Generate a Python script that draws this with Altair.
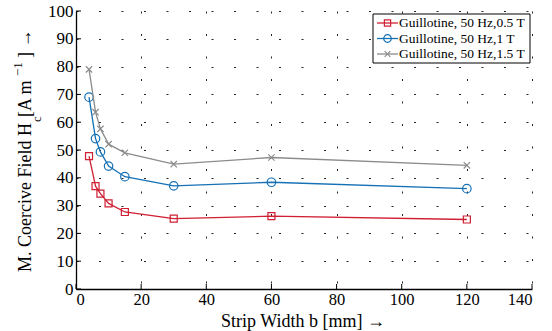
import altair as alt
import pandas as pd

# Strip widths b in mm and coercive field H_c in A/m per induction level
widths = [4, 6, 7.5, 10, 15, 30, 60, 120]
hc_05T = [47.8, 37.0, 34.3, 30.8, 27.7, 25.3, 26.2, 25.0]
hc_1T = [69.0, 54.1, 49.3, 44.2, 40.4, 37.1, 38.4, 36.1]
hc_15T = [79.0, 63.6, 57.6, 52.1, 49.0, 44.9, 47.3, 44.5]

series_names = [
    "Guillotine, 50 Hz,0.5 T",
    "Guillotine, 50 Hz,1 T",
    "Guillotine, 50 Hz,1.5 T",
]
series_values = [hc_05T, hc_1T, hc_15T]
colors = ["#D01F32", "#1570B5", "#8C8C8C"]
shapes = ["square", "circle", "M-1,-1L1,1M-1,1L1,-1"]
marker_sizes = [49, 72, 40]

x_ticks = [0, 20, 40, 60, 80, 100, 120, 140]
y_ticks = [0, 10, 20, 30, 40, 50, 60, 70, 80, 90, 100]

W, H = 456, 278
FONT = "Liberation Serif"

rows = []
for name, vals in zip(series_names, series_values):
    for w, v in zip(widths, vals):
        rows.append({"series": name, "b": w, "hc": v})
df = pd.DataFrame(rows)

x_scale = alt.Scale(domain=[0, 140], nice=False, zero=False)
y_scale = alt.Scale(domain=[0, 100], nice=False, zero=False)

x_axis = alt.Axis(
    values=x_ticks, grid=True, ticks=False, tickSize=0,
    title="Strip Width  b [mm] \u2192", titleX=226.5, titleY=37,
    titleAlign="center", titleBaseline="alphabetic", labelPadding=2,
    labelBaseline="top", labelFontSize=16.5,
)
y_axis = alt.Axis(values=y_ticks, grid=True, ticks=False, tickSize=0,
                  title=None, labelPadding=3)


def xenc(field="b"):
    return alt.X(f"{field}:Q", scale=x_scale, axis=x_axis)


def yenc(field="hc"):
    return alt.Y(f"{field}:Q", scale=y_scale, axis=y_axis)


one = alt.Data(values=[{"k": 0}])
layers = []

# curves and markers
for name, col, shp, sz in zip(series_names, colors, shapes, marker_sizes):
    sub = df[df["series"] == name]
    layers.append(
        alt.Chart(sub).mark_line(color=col, strokeWidth=1.3).encode(x=xenc(), y=yenc())
    )
    layers.append(
        alt.Chart(sub).mark_point(color=col, shape=shp, size=sz, filled=False,
                                  strokeWidth=1.2, opacity=1).encode(x=xenc(), y=yenc())
    )

# inward tick marks
layers.append(
    alt.Chart(pd.DataFrame({"hc": y_ticks})).mark_rule(color="black", strokeWidth=1)
    .encode(y=yenc(), x=alt.value(0), x2=alt.value(5))
)
layers.append(
    alt.Chart(pd.DataFrame({"b": x_ticks})).mark_rule(color="black", strokeWidth=1)
    .encode(x=xenc(), y=alt.value(H), y2=alt.value(H - 5))
)

# legend box
layers.append(
    alt.Chart(one).mark_rect(fill="white", stroke="black", strokeWidth=1)
    .encode(x=alt.value(297), x2=alt.value(454), y=alt.value(3), y2=alt.value(52))
)
legend_rows = [12, 27.5, 43]
for name, col, shp, sz, ry in zip(series_names, colors, shapes, marker_sizes, legend_rows):
    layers.append(
        alt.Chart(one).mark_rule(color=col, strokeWidth=1.3)
        .encode(x=alt.value(301), x2=alt.value(322), y=alt.value(ry))
    )
    layers.append(
        alt.Chart(one).mark_point(color=col, shape=shp, size=sz * 0.8, filled=False,
                                  strokeWidth=1.2, opacity=1)
        .encode(x=alt.value(311.5), y=alt.value(ry))
    )
    layers.append(
        alt.Chart(one).mark_text(font=FONT, fontSize=13.5, align="left",
                                 baseline="middle", color="black")
        .encode(x=alt.value(323), y=alt.value(ry), text=alt.value(name))
    )

# rotated y-axis title with subscript and superscript
title_parts = [
    ("M. Coercive Field H", -45, 261, 18),
    ("c", -35, 111, 12.5),
    ("[A m", -45, 106, 18),
    ("\u22121", -54, 65, 13),
    ("] \u2192", -45, 47, 18),
]
for txt, px, py, fs in title_parts:
    layers.append(
        alt.Chart(one).mark_text(font=FONT, fontSize=fs, angle=270, align="left",
                                 baseline="alphabetic", color="black")
        .encode(x=alt.value(px), y=alt.value(py), text=alt.value(txt))
    )

chart = (
    alt.layer(*layers)
    .properties(
        width=W, height=H,
        autosize=alt.AutoSizeParams(type="none"),
        padding={"left": 76, "top": 11, "right": 20, "bottom": 42},
        background="white",
    )
    .configure_view(stroke=None)
    .configure_axis(
        domainColor="black", domainWidth=1.3,
        gridColor="#222222", gridWidth=1, gridDash=[2, 20.5], gridOpacity=1,
        labelFont=FONT, labelFontSize=17, labelColor="black",
        titleFont=FONT, titleFontSize=18, titleColor="black", titleFontWeight="normal",
    )
)

chart.save("out.html", embed_options={"renderer": "svg", "actions": False})
